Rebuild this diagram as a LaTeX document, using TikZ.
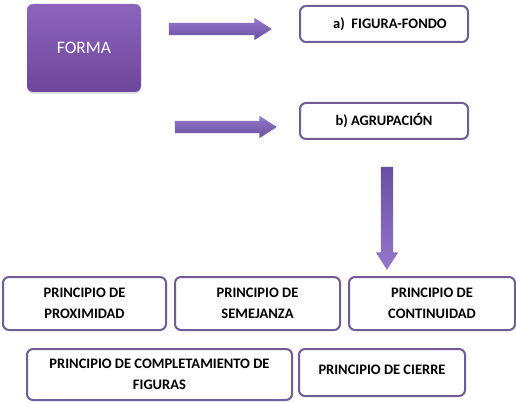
\documentclass[tikz,border=0pt]{standalone}
\usepackage{fontspec}
\setmainfont{Carlito}
\usetikzlibrary{positioning,shapes.arrows,shadows}
\definecolor{boxline}{HTML}{6F5C98}
\definecolor{formatop}{HTML}{8C64BC}
\definecolor{formabot}{HTML}{6E479C}
\definecolor{arrowtop}{HTML}{9577CB}
\definecolor{arrowbot}{HTML}{6A4FA0}

\begin{document}
\begin{tikzpicture}[
	x=1pt, y=1pt,
	node distance=7pt and 7pt,
	mybox/.style={draw=boxline,line width=2pt,rounded corners=6pt,fill=white,align=center,inner sep=2pt,font=\bfseries\fontsize{14.5}{21}\selectfont},
	smallbox/.style={mybox,minimum width=168pt,minimum height=36pt},
	princbox/.style={mybox,minimum height=53pt},
	formabox/.style={rounded corners=6pt,top color=formatop,bottom color=formabot,minimum width=114pt,minimum height=88pt,text=white,font=\fontsize{17.5}{20}\selectfont,drop shadow={opacity=0.25,shadow xshift=0pt,shadow yshift=-2pt}},
	myarrow/.style={single arrow,draw=none,inner sep=0pt,text height=6pt,text depth=6pt,text width=12pt,minimum width=22pt,single arrow head extend=5pt,single arrow tip angle=65,top color=arrowtop,bottom color=arrowbot}
	]
	\useasboundingbox (0,0) rectangle (516,-403);
	\node[formabox] (forma) at (84,-48) {FORMA};
	\node[smallbox] (figura) at (384,-24) {\hspace*{12pt}a)\ \ FIGURA-FONDO};
	\node[smallbox, below=59pt of figura] (agrupacion) {b) AGRUPACIÓN};
	\node[myarrow, minimum height=103pt] (arrfigura) at (215.5,-29) {};
	\node[myarrow, minimum height=102pt] (arragrupacion) at (221,-127) {};
	\node[myarrow, minimum height=103pt, rotate=-90, top color=arrowbot, bottom color=arrowtop] (arrprincipios) at (387,-213.5) {};
	\node[princbox, minimum width=163pt] (proximidad) at (84.5,-303.5) {PRINCIPIO DE\\PROXIMIDAD};
	\node[princbox, minimum width=165pt, right=of proximidad] (semejanza) {PRINCIPIO DE\\SEMEJANZA};
	\node[princbox, minimum width=166pt, right=of semejanza] (continuidad) {PRINCIPIO DE\\CONTINUIDAD};
	\node[mybox, minimum width=265pt, minimum height=51pt] (completamiento) at (159.5,-374.5) {PRINCIPIO DE COMPLETAMIENTO DE\\FIGURAS};
	\node[mybox, minimum width=166pt, minimum height=47pt, right=5pt of completamiento.north east, anchor=north west] (cierre) {\raisebox{5pt}{PRINCIPIO DE CIERRE}};
\end{tikzpicture}
\end{document}
